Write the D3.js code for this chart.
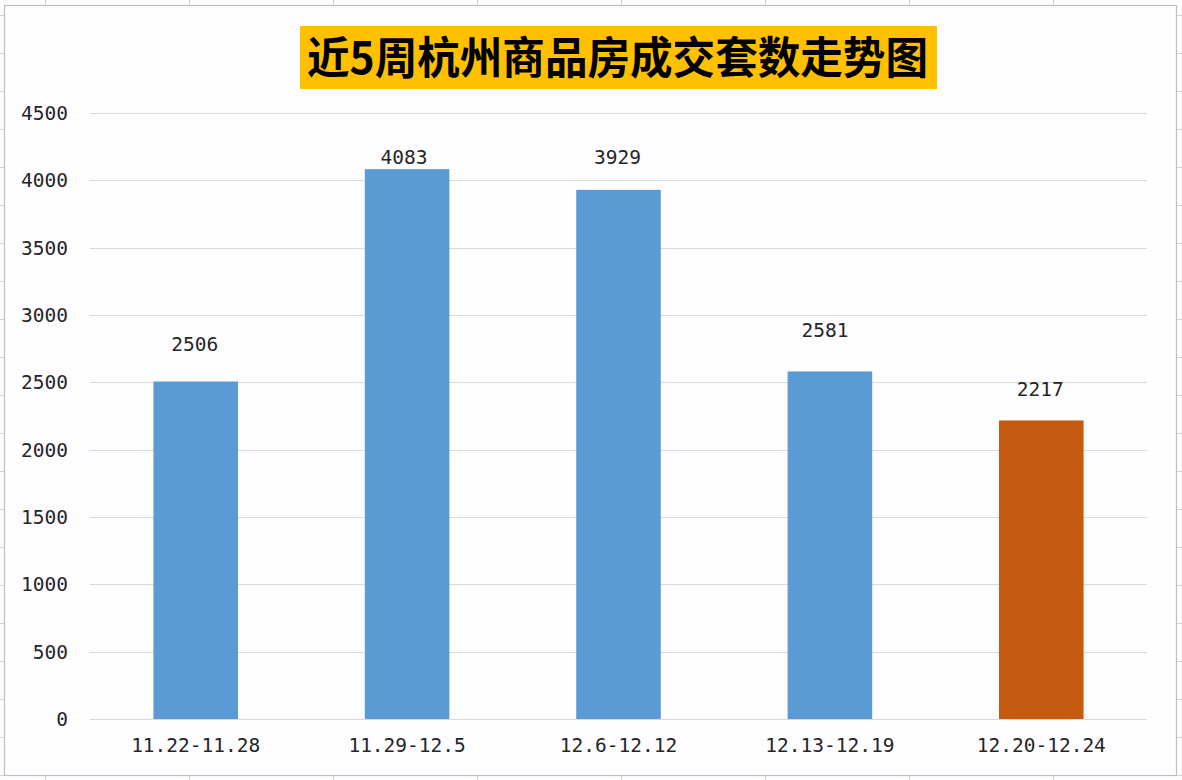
<!DOCTYPE html>
<html lang="zh">
  <head>
    <meta charset="UTF-8" />
    <title>近5周杭州商品房成交套数走势图</title>
    <script src="https://d3js.org/d3.v7.min.js"></script>
    <style>
      html, body {
        margin: 0;
        padding: 0;
        background: #fdfcfe;
      }
      .sheet-line {
        stroke: #d2d2d2;
        stroke-width: 1;
      }
      .grid line {
        stroke: #d9d9d9;
        stroke-width: 1.2;
      }
      .tick-label {
        font-family: "DejaVu Sans Mono", monospace;
        font-size: 19.5px;
        fill: #262626;
      }
      .title {
        font-family: "Noto Sans CJK SC", sans-serif;
        font-weight: 700;
        font-size: 44px;
        fill: #000;
      }
    </style>
  </head>
  <body>
    <svg width="1182" height="780"></svg>

    <script>
      const titleText = "近5周杭州商品房成交套数走势图";
      const weeks = ["11.22-11.28", "11.29-12.5", "12.6-12.12", "12.13-12.19", "12.20-12.24"];
      const deals = [2506, 4083, 3929, 2581, 2217];
      const yTicks = [0, 500, 1000, 1500, 2000, 2500, 3000, 3500, 4000, 4500];

      // the value labels were dragged by hand in the original, so each one has its own lift
      const labelLift = [31, 5, 26, 34, 24];
      const labelShift = [-1, -3, -1, -5, -1];

      const width = 1182;
      const height = 780;
      const frame = { left: 4, top: 5, right: 1176, bottom: 775 };
      const plot = { left: 90, right: 1147, top: 113, bottom: 719 };

      const svg = d3.select("svg").attr("width", width).attr("height", height);

      // spreadsheet cells peeking out around the chart
      const sheetCols = d3.range(45, width, 144);
      const sheetRows = d3.range(15, height, 38);
      svg
        .selectAll(".sheet-col")
        .data(sheetCols)
        .enter()
        .append("line")
        .attr("class", "sheet-line")
        .attr("x1", function (d) { return d + 0.5; })
        .attr("x2", function (d) { return d + 0.5; })
        .attr("y1", 0)
        .attr("y2", height);
      svg
        .selectAll(".sheet-row")
        .data(sheetRows)
        .enter()
        .append("line")
        .attr("class", "sheet-line")
        .attr("x1", 0)
        .attr("x2", width)
        .attr("y1", function (d) { return d + 0.5; })
        .attr("y2", function (d) { return d + 0.5; });

      // chart area
      svg
        .append("rect")
        .attr("x", frame.left + 0.5)
        .attr("y", frame.top + 0.5)
        .attr("width", frame.right - frame.left)
        .attr("height", frame.bottom - frame.top)
        .attr("fill", "#fdfcfe")
        .attr("stroke", "#bfbfbf")
        .attr("stroke-width", 1.2);

      const xScale = d3.scaleBand().domain(weeks).range([plot.left, plot.right]).padding(0);
      const yScale = d3.scaleLinear().domain([0, 4500]).range([plot.bottom, plot.top]);
      const barWidth = xScale.bandwidth() * 0.4;

      // horizontal gridlines
      const grid = svg.append("g").attr("class", "grid");
      grid
        .selectAll("line")
        .data(yTicks)
        .enter()
        .append("line")
        .attr("x1", plot.left)
        .attr("x2", plot.right)
        .attr("y1", function (d) { return Math.round(yScale(d)) + 0.5; })
        .attr("y2", function (d) { return Math.round(yScale(d)) + 0.5; });

      // y tick labels
      svg
        .selectAll(".y-label")
        .data(yTicks)
        .enter()
        .append("text")
        .attr("class", "tick-label")
        .attr("x", 68)
        .attr("y", function (d) { return yScale(d); })
        .attr("dy", "0.36em")
        .attr("text-anchor", "end")
        .text(function (d) { return d; });

      // bars
      svg
        .selectAll(".bar")
        .data(weeks)
        .enter()
        .append("rect")
        .attr("class", "bar")
        .attr("x", function (d) { return xScale(d) + (xScale.bandwidth() - barWidth) / 2; })
        .attr("y", function (d, i) { return yScale(deals[i]); })
        .attr("width", barWidth)
        .attr("height", function (d, i) { return yScale(0) - yScale(deals[i]); })
        .attr("fill", function (d, i) { return i === weeks.length - 1 ? "#c55a11" : "#5b9bd5"; });

      // value labels
      svg
        .selectAll(".value")
        .data(weeks)
        .enter()
        .append("text")
        .attr("class", "tick-label")
        .attr("x", function (d, i) { return xScale(d) + xScale.bandwidth() / 2 + labelShift[i]; })
        .attr("y", function (d, i) { return yScale(deals[i]) - labelLift[i]; })
        .attr("text-anchor", "middle")
        .text(function (d, i) { return deals[i]; });

      // x category labels
      svg
        .selectAll(".x-label")
        .data(weeks)
        .enter()
        .append("text")
        .attr("class", "tick-label")
        .attr("x", function (d) { return xScale(d) + xScale.bandwidth() / 2; })
        .attr("y", 752)
        .attr("text-anchor", "middle")
        .text(function (d) { return d; });

      // title on its yellow box
      svg
        .append("rect")
        .attr("x", 300)
        .attr("y", 26)
        .attr("width", 637)
        .attr("height", 63)
        .attr("fill", "#ffc000");
      svg
        .append("text")
        .attr("class", "title")
        .attr("x", 307)
        .attr("y", 74)
        .attr("textLength", 621)
        .attr("lengthAdjust", "spacingAndGlyphs")
        .text(titleText);
    </script>
  </body>
</html>
